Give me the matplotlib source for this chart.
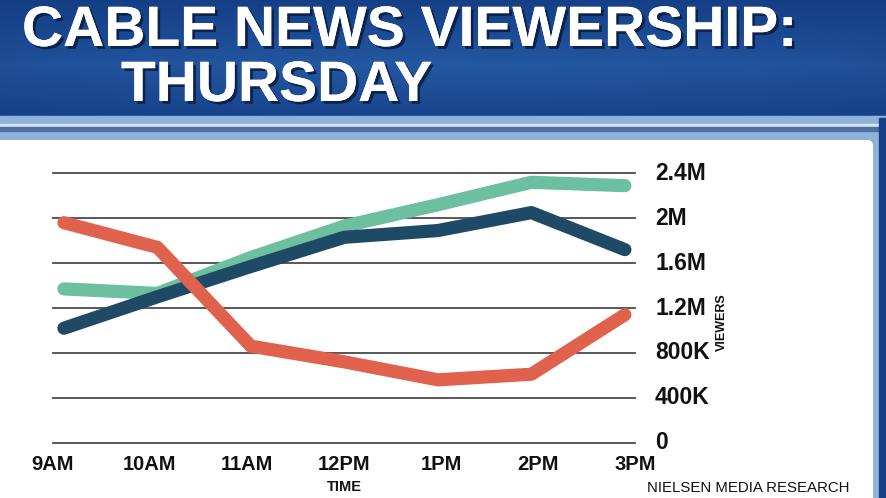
import numpy as np
import matplotlib
matplotlib.use('Agg')
import matplotlib.pyplot as plt
from matplotlib.patches import Rectangle, FancyBboxPatch
import matplotlib.patheffects as pe
import matplotlib.transforms as mtransforms

# ---- data ----
times = ['9AM', '10AM', '11AM', '12PM', '1PM', '2PM', '3PM']
series_green = [1.37e6, 1.33e6, 1.65e6, 1.93e6, 2.12e6, 2.32e6, 2.29e6]
series_navy = [1.02e6, 1.30e6, 1.57e6, 1.83e6, 1.89e6, 2.05e6, 1.72e6]
series_red = [1.96e6, 1.74e6, 0.86e6, 0.72e6, 0.56e6, 0.61e6, 1.14e6]
ytick_values = [0, 400e3, 800e3, 1.2e6, 1.6e6, 2.0e6, 2.4e6]
ytick_labels = ['0', '400K', '800K', '1.2M', '1.6M', '2M', '2.4M']
title_line1 = 'CABLE NEWS VIEWERSHIP:'
title_line2 = 'THURSDAY'

W, H = 886, 498
fig = plt.figure(figsize=(W / 100, H / 100), dpi=100)

# ---- background (TV graphic frame) ----
bg = fig.add_axes([0, 0, 1, 1])
bg.set_xlim(0, W)
bg.set_ylim(H, 0)
bg.axis('off')

ny, nx = 60, 200
yy = np.linspace(0, 1, ny)[:, None]
xx = np.linspace(0, 1, nx)[None, :]
top = np.array([18, 58, 128]) / 255
mid = np.array([36, 88, 162]) / 255
t = np.clip(1 - np.abs(yy - 0.55) * 1.5, 0, 1) * (0.7 + 0.3 * np.sin(xx * np.pi))
img = top[None, None, :] * (1 - t[..., None]) + mid[None, None, :] * t[..., None]
bg.imshow(img, extent=[0, W, 118, 0], aspect='auto', zorder=0)

bg.add_patch(Rectangle((0, 116), W, 24, color='#8db4d8', zorder=1))
bg.add_patch(Rectangle((0, 124), W, 3, color='#d8e4ef', zorder=2))
bg.add_patch(Rectangle((0, 127), W, 4, color='#4d6fa6', zorder=2))
bg.add_patch(Rectangle((870, 132), 16, H, color='#8db4d8', zorder=1))
bg.add_patch(Rectangle((879, 118), 7, H, color='#173f86', zorder=3))
bg.add_patch(FancyBboxPatch((-20, 140), 893, 400,
                            boxstyle='round,pad=0,rounding_size=6',
                            facecolor='white', edgecolor='none', zorder=4))

shadow = [pe.withSimplePatchShadow(offset=(2, -2), shadow_rgbFace='#0a1f45', alpha=0.9),
          pe.Normal()]
bg.text(22, 46, title_line1, fontsize=41, fontweight='bold', family='Liberation Sans',
        color='white', ha='left', va='baseline', zorder=5, path_effects=shadow)
bg.text(121, 101, title_line2, fontsize=41, fontweight='bold', family='Liberation Sans',
        color='white', ha='left', va='baseline', zorder=5, path_effects=shadow)

# ---- chart ----
x0_px, x6_px = 63, 628
left_px, right_px = 53, 635
bottom_px, top_px = 442.7, 173.3
unit = (x6_px - x0_px) / 6
ax = fig.add_axes([left_px / W, 1 - bottom_px / H, (right_px - left_px) / W,
                   (bottom_px - top_px) / H])
ax.patch.set_alpha(0)
ax.set_zorder(10)
ax.set_xlim(-(x0_px - left_px) / unit, 6 + (right_px - x6_px) / unit)
ax.set_ylim(0, 2.4e6)
for s in ax.spines.values():
    s.set_visible(False)
ax.set_yticks([])

for v in ytick_values:
    ax.axhline(v, color='#4a4a4a', lw=1.3, zorder=1, clip_on=False)

x = np.arange(len(times))
kw = dict(lw=9.5, solid_capstyle='round', solid_joinstyle='round', clip_on=False)
ax.plot(x, series_green, color='#6cbf9f', zorder=2, **kw)
ax.plot(x, series_navy, color='#1f4a66', zorder=3, **kw)
ax.plot(x, series_red, color='#e0624c', zorder=4, **kw)

label_pos = (52 - x0_px) / unit + np.arange(len(times)) * (97.7 / unit)
ax.set_xticks(label_pos, times)
ax.tick_params(axis='x', length=0, pad=9)
for lab in ax.get_xticklabels():
    lab.set_fontfamily('Liberation Sans')
    lab.set_fontweight('bold')
    lab.set_fontsize(14.5)
    lab.set_color('#111111')

trans = mtransforms.blended_transform_factory(ax.transAxes, ax.transData)
for v, lab in zip(ytick_values, ytick_labels):
    ax.text(1 + (655 - right_px) / (right_px - left_px), v, lab, transform=trans,
            ha='left', va='center', fontsize=16.5, fontweight='bold',
            family='Liberation Sans', color='#111111', clip_on=False)

fig.text(722 / W, 1 - 322 / H, 'VIEWERS', rotation=90, ha='center', va='center',
         fontsize=9, fontweight='bold', family='Liberation Sans', color='#111111')
fig.text(344 / W, 1 - 487 / H, 'TIME', ha='center', va='center',
         fontsize=10.5, fontweight='bold', family='Liberation Sans', color='#111111')
fig.text(647 / W, 1 - 488 / H, 'NIELSEN MEDIA RESEARCH', ha='left', va='center',
         fontsize=10.8, family='Liberation Sans', color='#111111')

fig.savefig('out.png', dpi=100)
